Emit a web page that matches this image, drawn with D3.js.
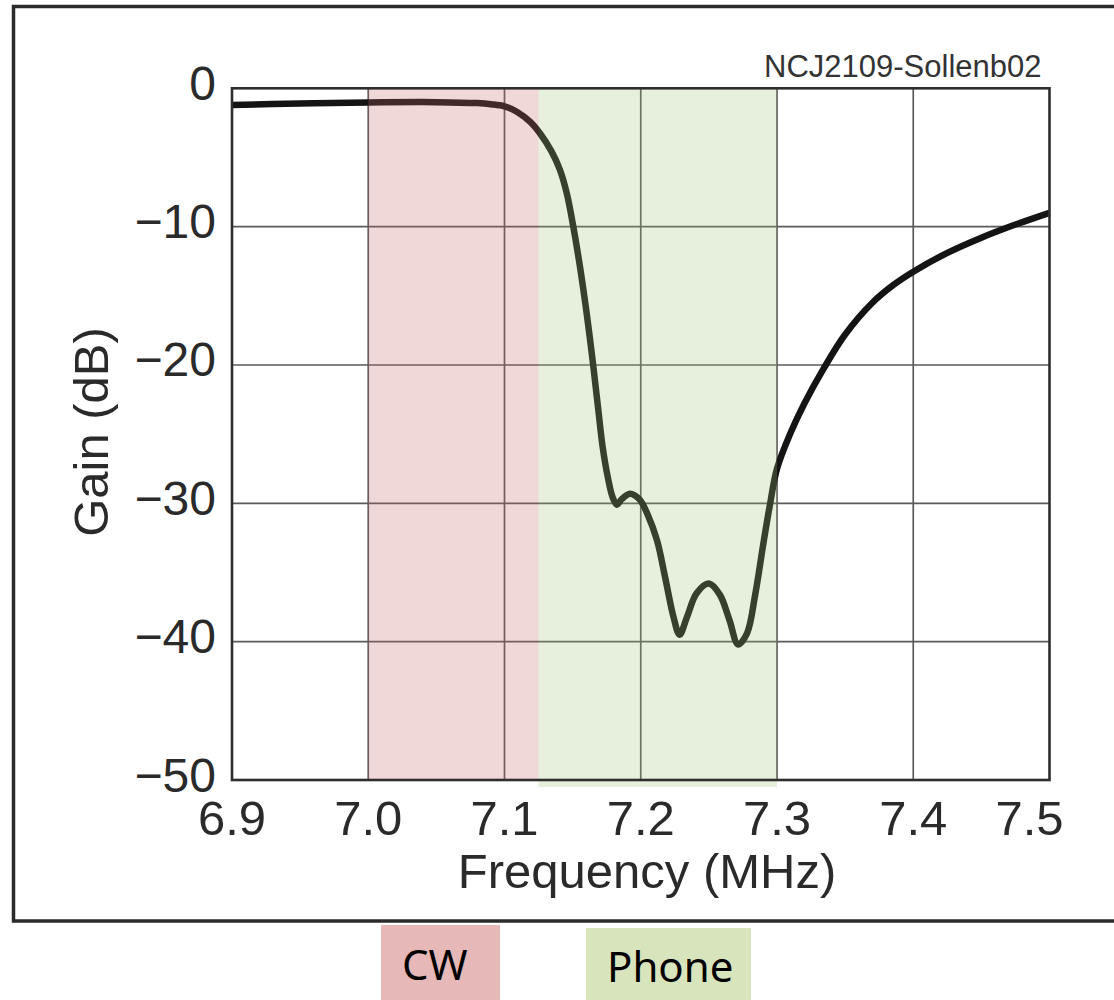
<!DOCTYPE html>
<html>
<head>
<meta charset="utf-8">
<script src="https://cdn.jsdelivr.net/npm/d3@7"></script>
<style>
  html, body { margin: 0; padding: 0; background: #ffffff; }
  svg { display: block; }
</style>
</head>
<body>
<svg id="chart" width="1114" height="1000"></svg>
<script>
// ---- Data ----
const freq = [6.900, 6.950, 7.000, 7.050, 7.080, 7.090, 7.100, 7.109, 7.1187, 7.126, 7.1346, 7.1407,
  7.1457, 7.1505, 7.1554, 7.1603, 7.1652, 7.1688, 7.172, 7.176, 7.1795, 7.1825, 7.186, 7.192, 7.199,
  7.205, 7.212, 7.218, 7.224, 7.2285, 7.234, 7.241, 7.250, 7.258, 7.265, 7.2715, 7.278, 7.284, 7.290,
  7.295, 7.300, 7.310, 7.320, 7.334, 7.350, 7.370, 7.385, 7.400, 7.425, 7.450, 7.475, 7.500];
const gain = [-1.20, -1.10, -1.02, -1.00, -1.07, -1.15, -1.30, -1.69, -2.41, -3.25, -4.58, -5.90,
  -7.59, -10.0, -12.9, -16.26, -20.1, -23.2, -25.9, -28.2, -29.6, -30.1, -29.7, -29.3, -29.7,
  -30.8, -32.7, -35.4, -38.2, -39.5, -38.2, -36.5, -35.8, -36.6, -38.4, -40.2, -39.4, -36.6, -32.9,
  -30.0, -27.5, -24.9, -22.8, -20.3, -17.8, -15.5, -14.25, -13.26, -11.9, -10.8, -9.85, -9.0];

const xTicks = [6.9, 7.0, 7.1, 7.2, 7.3, 7.4, 7.5];
const yTicks = [0, -10, -20, -30, -40, -50];
const xGrid = [7.0, 7.1, 7.2, 7.3, 7.4];
const yGrid = [-10, -20, -30, -40];

const bandNames = ["CW", "Phone"];
const bandStart = [7.0, 7.125];
const bandEnd = [7.125, 7.3];

const sourceNote = "NCJ2109-Sollenb02";
const xTitle = "Frequency (MHz)";
const yTitle = "Gain (dB)";

// ---- Layout ----
const svg = d3.select("#chart");
const L = 232, R = 1049.5, T = 88.3, B = 780;
const x = d3.scaleLinear().domain([6.9, 7.5]).range([L, R]);
const y = d3.scaleLinear().domain([0, -50]).range([T, B]);

const axisFont = "'Liberation Sans', Arial, Helvetica, sans-serif";
const textColor = "#2a2a2a";

svg.append("rect").attr("width", 1114).attr("height", 1000).attr("fill", "#ffffff");

// outer frame
svg.append("rect")
  .attr("x", 13.5).attr("y", 6.5).attr("width", 1130).attr("height", 914.5)
  .attr("fill", "none").attr("stroke", "#2b2b2b").attr("stroke-width", 3.5);

// gridlines
const grid = svg.append("g").attr("stroke", "#5a5a5a").attr("stroke-width", 1.7);
grid.selectAll("line.v").data(xGrid).join("line")
  .attr("x1", d => x(d)).attr("x2", d => x(d)).attr("y1", T).attr("y2", B);
grid.selectAll("line.h").data(yGrid).join("line")
  .attr("x1", L).attr("x2", R).attr("y1", d => y(d)).attr("y2", d => y(d));

// curve
const line = d3.line().x((d, i) => x(freq[i])).y((d, i) => y(gain[i])).curve(d3.curveCatmullRom.alpha(0.5));
svg.append("path")
  .datum(freq)
  .attr("d", line)
  .attr("fill", "none")
  .attr("stroke", "#141414")
  .attr("stroke-width", 6.5)
  .attr("stroke-linejoin", "round")
  .attr("stroke-linecap", "butt");

// bands (translucent overlays)
const bandFill = ["rgba(200,105,105,0.26)", "rgba(160,195,115,0.25)"];
const bandBottom = [B, B + 7];
svg.selectAll("rect.band").data(bandNames).join("rect")
  .attr("class", "band")
  .attr("x", (d, i) => x(bandStart[i]))
  .attr("width", (d, i) => x(bandEnd[i]) - x(bandStart[i]))
  .attr("y", T)
  .attr("height", (d, i) => bandBottom[i] - T)
  .attr("fill", (d, i) => bandFill[i]);

// plot frame
svg.append("rect")
  .attr("x", L).attr("y", T).attr("width", R - L).attr("height", B - T)
  .attr("fill", "none").attr("stroke", "#2e2e2e").attr("stroke-width", 2.6);

// y tick labels
svg.append("g").selectAll("text").data(yTicks).join("text")
  .attr("x", 216)
  .attr("y", d => y(d) + 11.5)
  .attr("text-anchor", "end")
  .attr("font-family", axisFont)
  .attr("font-size", 48)
  .attr("fill", textColor)
  .text(d => d === 0 ? "0" : "\u2212" + Math.abs(d));

// x tick labels
svg.append("g").selectAll("text").data(xTicks).join("text")
  .attr("x", d => x(d) + (d === 7.5 ? -20 : 0))
  .attr("y", 835)
  .attr("text-anchor", "middle")
  .attr("font-family", axisFont)
  .attr("font-size", 49)
  .attr("fill", textColor)
  .text(d => d.toFixed(1));

// axis titles
svg.append("text")
  .attr("x", 647).attr("y", 888)
  .attr("text-anchor", "middle")
  .attr("font-family", axisFont).attr("font-size", 49)
  .attr("fill", textColor)
  .text(xTitle);

svg.append("text")
  .attr("transform", "translate(108,432) rotate(-90)")
  .attr("text-anchor", "middle")
  .attr("font-family", axisFont).attr("font-size", 49)
  .attr("fill", textColor)
  .text(yTitle);

// source note
svg.append("text")
  .attr("x", 1041.5).attr("y", 77)
  .attr("text-anchor", "end")
  .attr("font-family", axisFont).attr("font-size", 31)
  .attr("fill", "#333333")
  .text(sourceNote);

// legend boxes below the frame
const boxX = [381, 586], boxW = [119, 165], boxY = [925, 928];
const boxFill = ["#e6b8b7", "#d8e4bc"];
const lblX = [402, 607], lblY = [980, 982];
const leg = svg.append("g");
leg.selectAll("rect").data(bandNames).join("rect")
  .attr("x", (d, i) => boxX[i]).attr("y", (d, i) => boxY[i])
  .attr("width", (d, i) => boxW[i]).attr("height", (d, i) => 1000 - boxY[i])
  .attr("fill", (d, i) => boxFill[i]);
leg.selectAll("text").data(bandNames).join("text")
  .attr("x", (d, i) => lblX[i]).attr("y", (d, i) => lblY[i])
  .attr("font-family", "'Noto Sans', 'Open Sans', sans-serif")
  .attr("font-size", 42)
  .attr("fill", "#000000")
  .text(d => d);
</script>
</body>
</html>
